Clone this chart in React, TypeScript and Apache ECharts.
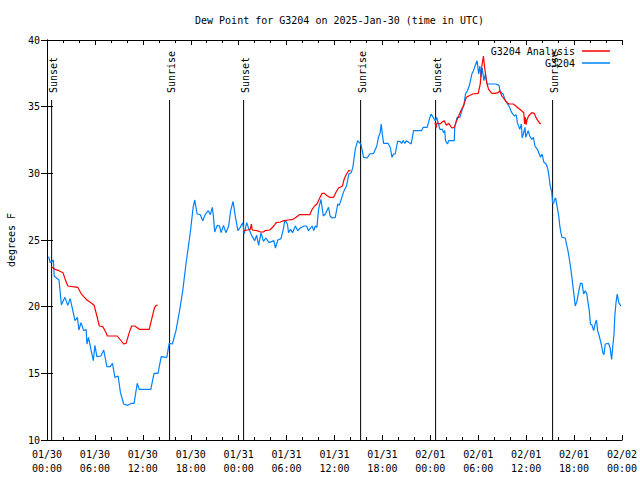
import React, { useEffect, useRef } from "react";
import * as echarts from "echarts";

const titleText = "Dew Point for G3204 on 2025-Jan-30 (time in UTC)";
const yAxisName = "degrees F";
const xTickLabels = [
  "01/30\n00:00", "01/30\n06:00", "01/30\n12:00", "01/30\n18:00",
  "01/31\n00:00", "01/31\n06:00", "01/31\n12:00", "01/31\n18:00",
  "02/01\n00:00", "02/01\n06:00", "02/01\n12:00", "02/01\n18:00",
  "02/02\n00:00",
];

// hours since 2025-01-30 00:00 UTC
const sunHours = [0.58, 15.35, 24.62, 39.27, 48.66, 63.31];
const sunLabels = ["Sunset", "Sunrise", "Sunset", "Sunrise", "Sunset", "Sunrise"];

const blueHours = [
  0.2, 0.4, 0.8, 0.9, 1.5, 1.8, 2.25, 2.6, 2.9, 3.2, 3.5, 3.8, 4.0, 4.25, 4.6, 4.9, 5.0, 5.2, 5.5, 5.8,
  6.0, 6.25, 6.75, 7.1, 7.5, 7.9, 8.2, 8.5, 8.9, 9.2, 9.6, 10.1, 10.6, 10.9, 11.3, 11.55, 13.0, 13.4, 13.9, 14.3,
  15.0, 15.3, 15.7, 16.15, 16.6, 17.0, 17.4, 17.95, 18.3, 18.5, 18.8, 19.2, 19.5, 19.8, 20.2, 20.45, 20.7, 20.85, 21.0, 21.3,
  21.6, 21.8, 22.1, 22.4, 22.75, 23.0, 23.3, 23.6, 23.9, 24.2, 24.5, 24.7, 25.0, 25.3, 25.7, 26.0, 26.25, 26.5, 26.8, 27.1,
  27.4, 27.8, 28.4, 28.6, 28.9, 29.3, 29.55, 29.8, 30.1, 30.25, 30.5, 30.75, 31.1, 31.4, 31.7, 32.2, 32.5, 32.75, 33.2, 33.4,
  33.6, 33.8, 34.0, 34.3, 34.6, 34.9, 35.25, 35.45, 35.7, 36.1, 36.4, 36.6, 36.95, 37.2, 37.5, 37.8, 38.1, 38.3, 38.6, 38.9,
  39.2, 39.3, 39.65, 40.1, 40.4, 40.9, 41.3, 41.5, 41.7, 41.85, 42.0, 42.15, 42.7, 43.0, 43.2, 43.4, 43.6, 43.9, 44.2, 44.4,
  44.6, 44.8, 45.0, 45.6, 45.9, 46.9, 47.1, 47.6, 47.9, 48.1, 48.35, 48.6, 48.8, 49.2, 49.5, 49.65, 49.8, 49.9, 50.15, 50.3,
  51.0, 51.05, 51.35, 51.7, 52.0, 52.2, 52.4, 52.65, 52.9, 53.2, 53.4, 53.6, 53.85, 54.05, 54.2, 54.35, 54.5, 54.7, 54.9, 55.1,
  55.5, 56.2, 56.6, 56.75, 57.1, 57.4, 57.8, 58.2, 58.5, 58.75, 58.9, 59.2, 59.4, 59.5, 59.65, 59.85, 59.95, 60.25, 60.45, 60.7,
  60.9, 61.1, 61.4, 61.8, 62.0, 62.2, 62.5, 62.7, 62.9, 63.0, 63.2, 63.3, 63.45, 63.55, 63.7, 63.85, 64.1, 64.2, 64.35, 64.5,
  64.9, 65.0, 65.2, 65.4, 65.6, 65.75, 65.95, 66.15, 66.35, 66.6, 66.8, 67.0, 67.2, 67.4, 67.6, 67.75, 67.9, 68.05, 68.25, 68.45,
  68.65, 68.8, 68.95, 69.15, 69.4, 69.6, 69.75, 69.9, 70.3, 70.5, 70.7, 70.85, 71.0, 71.1, 71.25, 71.4, 71.6, 71.85,
];
const blueValues = [
  23.75, 23.3, 23.5, 22.3, 22.0, 20.15, 20.7, 20.1, 20.6, 19.8, 18.95, 19.2, 18.25, 18.8, 18.2, 18.3, 17.2, 17.7, 16.8, 15.95,
  17.1, 16.25, 16.3, 16.75, 15.5, 15.5, 15.75, 14.7, 14.8, 13.55, 12.7, 12.6, 12.75, 12.75, 14.25, 13.8, 13.8, 15.0, 15.0, 16.25,
  16.2, 17.25, 17.2, 18.2, 19.7, 21.2, 23.2, 25.6, 27.45, 28.0, 26.95, 26.9, 26.45, 26.9, 27.2, 26.9, 27.45, 26.7, 25.6, 26.1,
  26.05, 25.55, 26.1, 25.55, 26.05, 27.2, 27.9, 26.7, 25.7, 25.95, 26.3, 25.45, 26.3, 25.8, 25.25, 24.95, 25.35, 24.6, 25.55, 24.9,
  25.15, 24.8, 24.95, 24.4, 25.0, 25.1, 25.7, 26.5, 26.2, 25.55, 25.8, 25.55, 26.05, 25.7, 25.9, 26.05, 26.05, 25.7, 26.05, 25.7,
  26.05, 25.95, 27.3, 28.05, 26.8, 27.0, 27.45, 26.8, 26.65, 26.7, 27.7, 27.6, 28.25, 28.7, 29.05, 29.95, 30.05, 30.45, 31.8, 32.45,
  32.25, 32.2, 31.2, 31.15, 31.45, 31.5, 32.05, 32.7, 33.0, 33.7, 32.9, 32.25, 32.25, 31.9, 31.2, 31.45, 31.45, 32.4, 32.4, 32.25,
  32.45, 32.25, 32.45, 32.2, 33.2, 33.2, 33.45, 33.45, 34.1, 34.45, 34.2, 33.95, 34.2, 33.3, 33.3, 33.05, 33.2, 32.45, 32.2, 32.45,
  32.45, 33.45, 34.2, 34.2, 34.8, 35.1, 35.95, 36.2, 36.6, 37.45, 37.7, 38.05, 38.45, 37.45, 38.05, 37.2, 37.9, 36.95, 37.45, 36.7,
  36.7, 36.7, 36.6, 36.15, 35.95, 35.45, 35.1, 34.55, 34.3, 34.4, 33.8, 33.3, 33.7, 32.65, 32.95, 33.45, 32.7, 33.2, 32.8, 32.55,
  32.7, 32.05, 31.8, 31.2, 31.45, 30.85, 30.7, 30.35, 29.6, 29.1, 28.6, 27.8, 27.75, 28.05, 28.15, 27.6, 26.7, 26.1, 25.55, 25.2,
  25.15, 24.8, 24.3, 23.6, 22.8, 22.1, 21.05, 20.05, 20.4, 21.2, 21.75, 21.75, 20.95, 21.2, 20.95, 20.3, 19.7, 18.7, 18.6, 18.2,
  18.75, 19.0, 18.2, 17.8, 17.2, 16.55, 16.4, 17.2, 17.25, 16.95, 16.05, 17.05, 17.95, 19.3, 20.3, 20.95, 20.3, 20.05,
];

// Analysis: three overnight segments
const redHours1 = [0.55, 1.0, 1.5, 2.0, 2.25, 2.6, 3.2, 3.85, 4.25, 4.6, 5.0, 5.5, 5.9, 6.25, 6.55, 7.0, 7.4, 7.55, 8.8, 9.2, 9.6, 9.9, 10.3, 10.6, 11.0, 11.55, 12.8, 13.1, 13.45, 13.65, 13.85];
const redValues1 = [23.0, 22.8, 22.7, 22.55, 22.1, 21.55, 21.5, 21.45, 21.0, 20.75, 20.5, 20.3, 20.1, 19.3, 18.55, 18.5, 18.05, 17.8, 17.8, 17.5, 17.2, 17.25, 18.05, 18.55, 18.55, 18.3, 18.3, 19.05, 19.9, 20.1, 20.1];
const redHours2 = [24.6, 25.1, 25.45, 25.6, 25.7, 26.3, 26.75, 27.1, 27.3, 27.9, 28.4, 28.7, 29.2, 29.7, 30.25, 30.8, 31.2, 31.6, 32.9, 33.2, 33.5, 33.8, 34.2, 34.45, 34.75, 35.0, 35.4, 35.9, 36.2, 36.5, 37.0, 37.2, 37.5, 37.8, 38.0];
const redValues2 = [25.7, 25.75, 25.8, 26.2, 25.75, 25.7, 25.6, 25.6, 25.7, 25.75, 26.05, 26.3, 26.35, 26.45, 26.5, 26.55, 26.7, 26.9, 26.9, 27.3, 27.55, 27.7, 28.2, 28.5, 28.5, 28.35, 28.2, 28.2, 28.6, 28.9, 29.05, 29.55, 29.95, 30.2, 30.2];
const redHours3 = [48.6, 48.7, 48.85, 49.2, 49.5, 49.75, 50.0, 50.3, 50.7, 51.0, 51.3, 51.55, 51.8, 52.2, 52.5, 52.8, 53.3, 54.0, 54.25, 54.45, 54.6, 54.65, 54.75, 55.0, 55.1, 55.3, 55.7, 56.1, 56.5, 56.7, 56.95, 57.4, 57.8, 58.4, 58.8, 59.2, 59.5, 59.7, 59.8, 59.9, 60.0, 60.1, 60.3, 60.7, 61.0, 61.3, 61.7, 61.85];
const redValues3 = [33.8, 33.4, 33.8, 33.7, 33.85, 33.95, 33.6, 33.75, 33.4, 33.45, 33.95, 34.3, 34.65, 35.15, 35.7, 35.8, 35.95, 36.0, 36.7, 38.05, 38.6, 38.8, 38.2, 37.0, 36.7, 36.3, 36.0, 36.0, 36.05, 36.2, 35.8, 35.45, 35.2, 35.2, 35.0, 34.8, 34.65, 34.55, 33.7, 34.2, 33.65, 34.0, 34.3, 34.55, 34.5, 34.1, 33.75, 33.75];

const FONT = "DejaVu Sans Mono";

export default function App() {
  const ref = useRef<HTMLDivElement>(null);
  useEffect(() => {
    if (!ref.current) return;
    const chart = echarts.init(ref.current, null, { renderer: "svg" });
    const pair = (h: number[], v: number[]) => h.map((x, i) => [x, v[i]]);
    const redData: any[] = [
      ...pair(redHours1, redValues1), "-",
      ...pair(redHours2, redValues2), "-",
      ...pair(redHours3, redValues3),
    ];
    const labelStyle = { fontFamily: FONT, fontSize: 10, color: "#000" };
    const axisLine = { show: true, lineStyle: { color: "#000", width: 1 } };
    chart.setOption({
      animation: false,
      backgroundColor: "#fff",
      title: {
        text: titleText,
        left: 190,
        top: 10,
        textStyle: { fontFamily: FONT, fontSize: 10, fontWeight: "normal", color: "#000" },
      },
      legend: {
        orient: "vertical",
        right: 25,
        top: 41,
        align: "right",
        itemWidth: 28,
        itemHeight: 1.5,
        itemGap: 2,
        icon: "rect",
        textStyle: { ...labelStyle, padding: [0, 2, 0, 0] },
        data: ["G3204 Analysis", "G3204"],
      },
      grid: { left: 47, right: 18, top: 40, bottom: 40, containLabel: false, outerBoundsMode: "none" },
      xAxis: [
        {
          type: "value", min: 0, max: 72, interval: 6, position: "bottom",
          axisLine,
          axisTick: { show: true, inside: true, length: 5, lineStyle: { color: "#000" } },
          minorTick: { show: true, splitNumber: 3, length: 3, lineStyle: { color: "#000" } },
          splitLine: { show: false },
          axisLabel: { ...labelStyle, margin: 7, lineHeight: 14, formatter: (v: number) => xTickLabels[Math.round(v / 6)] },
        },
        {
          type: "value", min: 0, max: 72, interval: 6, position: "top",
          axisLine,
          axisTick: { show: true, inside: true, length: 5, lineStyle: { color: "#000" } },
          minorTick: { show: true, splitNumber: 3, length: 3, lineStyle: { color: "#000" } },
          splitLine: { show: false },
          axisLabel: { show: false },
        },
      ],
      yAxis: [
        {
          type: "value", min: 10, max: 40, interval: 5, position: "left",
          name: yAxisName, nameLocation: "middle", nameGap: 31, nameRotate: 90,
          nameTextStyle: labelStyle,
          axisLine,
          axisTick: { show: true, inside: true, length: 6, lineStyle: { color: "#000" } },
          splitLine: { show: false },
          axisLabel: { ...labelStyle, margin: 7 },
        },
        {
          type: "value", min: 10, max: 40, interval: 5, position: "right",
          axisLine,
          axisTick: { show: true, inside: true, length: 6, lineStyle: { color: "#000" } },
          splitLine: { show: false },
          axisLabel: { show: false },
        },
      ],
      series: [
        {
          type: "custom",
          name: "sun",
          xAxisIndex: 0,
          yAxisIndex: 0,
          data: sunHours.map((h) => [h]),
          renderItem: (params: any, api: any) => {
            const t = api.value(0);
            const top = api.coord([t, 35.5]);
            const bottom = api.coord([t, 10]);
            return {
              type: "group",
              children: [
                {
                  type: "line",
                  shape: { x1: top[0], y1: top[1], x2: bottom[0], y2: bottom[1] },
                  style: { stroke: "#000", lineWidth: 1 },
                },
                {
                  type: "text",
                  x: top[0] + 1.5,
                  y: top[1] - 7,
                  rotation: Math.PI / 2,
                  style: {
                    text: sunLabels[params.dataIndex],
                    font: `10px "${FONT}"`,
                    fill: "#000",
                    align: "left",
                    verticalAlign: "middle",
                  },
                },
              ],
            };
          },
          z: 1,
        },
        {
          name: "G3204",
          type: "line",
          symbol: "none",
          showSymbol: false,
          data: pair(blueHours, blueValues),
          lineStyle: { color: "#0080ff", width: 1.2 },
          itemStyle: { color: "#0080ff" },
          z: 2,
        },
        {
          name: "G3204 Analysis",
          type: "line",
          symbol: "none",
          showSymbol: false,
          connectNulls: false,
          data: redData,
          lineStyle: { color: "#ff0000", width: 1.2 },
          itemStyle: { color: "#ff0000" },
          z: 3,
        },
      ],
    });
    return () => chart.dispose();
  }, []);
  return (
    <div
      ref={ref}
      style={{ position: "fixed", left: 0, top: 0, width: 640, height: 480, background: "#fff" }}
    />
  );
}
